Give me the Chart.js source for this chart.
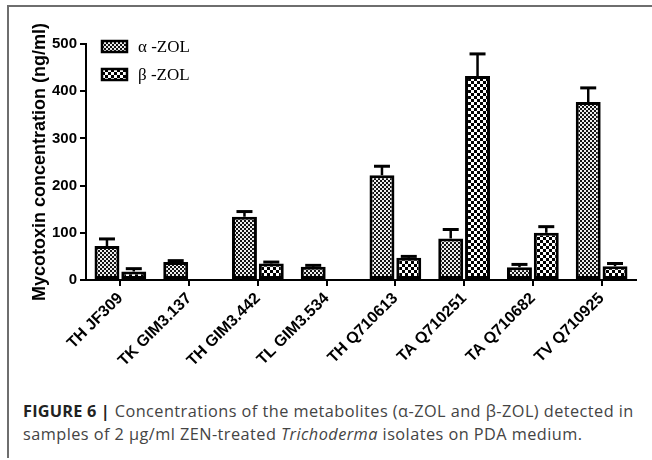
<!DOCTYPE html>
<html>
<head>
<meta charset="utf-8">
<script src="https://cdn.jsdelivr.net/npm/chart.js@4.4.0/dist/chart.umd.min.js"></script>
<style>
  html, body { margin: 0; padding: 0; background: #fff; }
  body { width: 652px; height: 460px; position: relative; overflow: hidden; }
  #frameTop { position: absolute; left: 7px; top: 5px; width: 645px; height: 2px; background: #6e6e6e; }
  #frameLeft { position: absolute; left: 7px; top: 5px; width: 2px; height: 453px; background: #6e6e6e; }
  #wrap { position: absolute; left: 0; top: 0; width: 652px; height: 380px; }
  #caption { position: absolute; left: 23px; top: 400px; width: 629px; white-space: nowrap;
    font-family: "Open Sans", Roboto, "Liberation Sans", sans-serif; font-size: 16.3px; letter-spacing: 0.45px;
    line-height: 23px; color: #444; }
  #caption b { color: #222; letter-spacing: 0.2px; }
</style>
</head>
<body>
<div id="frameTop"></div>
<div id="frameLeft"></div>
<div id="wrap"><canvas id="c" width="652" height="380"></canvas></div>
<div id="caption"><b>FIGURE 6 |</b> Concentrations of the metabolites (α-ZOL and β-ZOL) detected in<br>samples of 2 μg/ml ZEN-treated <i>Trichoderma</i> isolates on PDA medium.</div>
<script>
// ---- data ----
const categories = ["TH JF309", "TK GIM3.137", "TH GIM3.442", "TL GIM3.534", "TH Q710613", "TA Q710251", "TA Q710682", "TV Q710925"];
const seriesNames = ["α -ZOL", "β -ZOL"];
const alphaValues = [72, 38, 134, 28, 222, 88, 27, 377];
const alphaErrors = [15, 3, 11, 3, 19, 19, 6, 30];
const betaValues = [18, null, 35, null, 47, 432, 100, 29];
const betaErrors = [6, null, 3, null, 3, 47, 13, 6];
const yTicks = [0, 100, 200, 300, 400, 500];
const yTitle = "Mycotoxin concentration (ng/ml)";

// ---- patterns ----
function makeChecker(size, dark, light) {
  const p = document.createElement('canvas');
  p.width = size * 2; p.height = size * 2;
  const g = p.getContext('2d');
  g.fillStyle = light; g.fillRect(0, 0, size * 2, size * 2);
  g.fillStyle = dark;
  g.fillRect(0, 0, size, size);
  g.fillRect(size, size, size, size);
  return g.createPattern(p, 'repeat');
}
const ctx = document.getElementById('c').getContext('2d');
const alphaFill = makeChecker(2, '#141414', '#eeeeee');
const betaFill = makeChecker(3, '#000000', '#ffffff');

const errorBars = {
  id: 'errorBars',
  afterDatasetsDraw(chart) {
    const c = chart.ctx;
    const y = chart.scales.y;
    chart.data.datasets.forEach((ds, di) => {
      const meta = chart.getDatasetMeta(di);
      meta.data.forEach((bar, i) => {
        const v = ds.data[i], e = ds.errors[i];
        if (v == null || e == null) return;
        const top = y.getPixelForValue(v + e);
        c.save();
        c.strokeStyle = '#000';
        c.lineWidth = 2.5;
        c.beginPath();
        c.moveTo(bar.x, bar.y);
        c.lineTo(bar.x, top);
        c.stroke();
        c.lineWidth = 3;
        c.beginPath();
        c.moveTo(bar.x - 8, top);
        c.lineTo(bar.x + 8, top);
        c.stroke();
        c.restore();
      });
    });
  }
};

const insideLegend = {
  id: 'insideLegend',
  afterDraw(chart) {
    const c = chart.ctx;
    const a = chart.chartArea;
    chart.data.datasets.forEach((ds, i) => {
      const bx = a.left + 16, by = a.top - 3 + i * 28;
      c.save();
      c.fillStyle = ds.backgroundColor;
      c.fillRect(bx, by, 25, 11);
      c.strokeStyle = '#000';
      c.lineWidth = 2.5;
      c.strokeRect(bx, by, 25, 11);
      c.fillStyle = '#000';
      c.font = '17px "Liberation Serif", "DejaVu Serif", serif';
      c.textBaseline = 'middle';
      c.textAlign = 'left';
      c.fillText(ds.label, bx + 36, by + 7);
      c.restore();
    });
  }
};

new Chart(ctx, {
  type: 'bar',
  data: {
    labels: categories,
    datasets: [
      { label: seriesNames[0], data: alphaValues, errors: alphaErrors,
        backgroundColor: alphaFill, borderColor: '#000', borderWidth: 3, borderSkipped: false,
        categoryPercentage: 0.78, barPercentage: 0.93 },
      { label: seriesNames[1], data: betaValues, errors: betaErrors,
        backgroundColor: betaFill, borderColor: '#000', borderWidth: 3, borderSkipped: false,
        categoryPercentage: 0.78, barPercentage: 0.93 }
    ]
  },
  options: {
    responsive: false,
    animation: false,
    devicePixelRatio: 1,
    layout: { padding: { top: 44, right: 16, bottom: 0, left: 0 } },
    plugins: { legend: { display: false }, tooltip: { enabled: false } },
    scales: {
      x: {
        grid: { display: true, drawOnChartArea: false, offset: false, color: '#000', lineWidth: 2, tickLength: 6 },
        border: { display: true, color: '#000', width: 2 },
        ticks: { color: '#000', font: { family: '"Liberation Sans", Arial, sans-serif', size: 16, weight: 'bold' },
          minRotation: 45, maxRotation: 45, autoSkip: false, padding: 3 },
        afterFit(s) { s.height = 100; }
      },
      y: {
        min: 0, max: 500,
        afterBuildTicks(s) { s.ticks = yTicks.map(v => ({ value: v })); },
        grid: { display: true, drawOnChartArea: false, color: '#000', lineWidth: 2, tickLength: 6 },
        border: { display: true, color: '#000', width: 2 },
        ticks: { color: '#000', font: { family: '"Liberation Sans", Arial, sans-serif', size: 15, weight: 'bold' }, padding: 3 },
        title: { display: true, text: yTitle, color: '#000',
          font: { family: '"Liberation Sans", Arial, sans-serif', size: 18, weight: 'bold' },
          padding: { top: 29, bottom: 0 } },
        afterFit(s) { s.width = 86; }
      }
    }
  },
  plugins: [errorBars, insideLegend]
});
</script>
</body>
</html>
